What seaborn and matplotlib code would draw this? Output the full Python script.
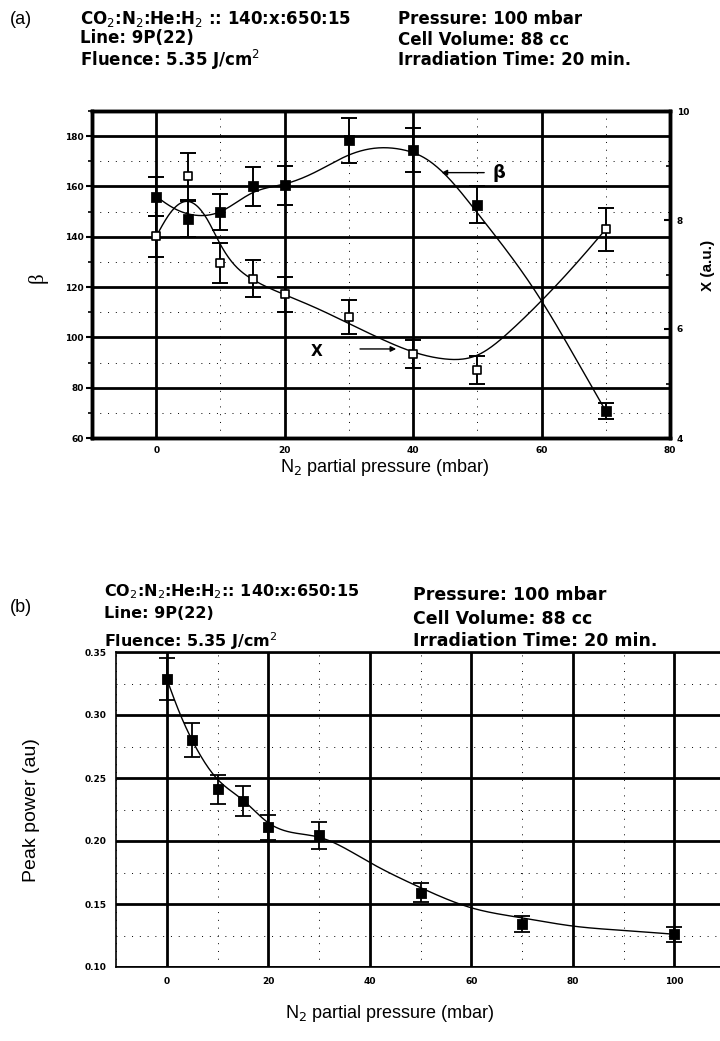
import numpy as np
import matplotlib
matplotlib.use("Agg")
import matplotlib.pyplot as plt
import seaborn as sns
from matplotlib.ticker import MultipleLocator

# ---------------- data ----------------
# panel (a)
n2_a = [0, 5, 10, 15, 20, 30, 40, 50, 70]
beta = [156, 147, 150, 160, 160.5, 178.4, 174.4, 152.8, 70.7]
beta_err = [7.7, 7.2, 7.2, 7.8, 7.8, 9.0, 8.7, 7.2, 3.2]
xval = [7.70, 8.80, 7.21, 6.92, 6.64, 6.22, 5.54, 5.25, 7.83]
xval_err = [0.38, 0.43, 0.36, 0.34, 0.32, 0.32, 0.26, 0.26, 0.39]

# fitted curves of panel (a), anchor values
beta_fit_x = [0, 3, 6, 10, 15, 20, 25, 30, 34, 38, 42, 46, 50, 55, 60, 65, 70]
beta_fit_y = [156, 151, 148.6, 150, 157.5, 161, 166, 172.5, 175.2, 174.8, 171, 162, 149.5, 133, 114.5, 93, 70.7]
x_fit_x = [0, 2, 5, 8, 10, 12, 15, 20, 25, 30, 35, 40, 45, 50, 55, 60, 65, 70]
x_fit_y = [7.70, 8.10, 8.34, 8.00, 7.55, 7.20, 6.91, 6.63, 6.38, 6.10, 5.82, 5.58, 5.45, 5.52, 5.95, 6.52, 7.15, 7.83]

# panel (b)
n2_b = [0, 5, 10, 15, 20, 30, 50, 70, 100]
peak = [0.3286, 0.280, 0.241, 0.232, 0.211, 0.2045, 0.159, 0.134, 0.126]
peak_err = [0.0165, 0.0135, 0.0115, 0.012, 0.010, 0.0105, 0.0075, 0.0065, 0.006]
peak_fit_x = [0, 2.5, 5, 10, 15, 20, 30, 40, 50, 60, 70, 80, 90, 100]
peak_fit_y = [0.3286, 0.302, 0.280, 0.249, 0.2325, 0.2145, 0.203, 0.183, 0.163, 0.147, 0.139, 0.1325, 0.129, 0.126]

x_ticks_a = [0, 20, 40, 60, 80]
beta_ticks = [60, 80, 100, 120, 140, 160, 180]
xau_ticks = [4, 6, 8, 10]
x_ticks_b = [0, 20, 40, 60, 80, 100]
peak_ticks = [0.10, 0.15, 0.20, 0.25, 0.30, 0.35]

header_left = ["CO$_2$:N$_2$:He:H$_2$ :: 140:x:650:15", "Line: 9P(22)", "Fluence: 5.35 J/cm$^2$"]
header_left_b = ["CO$_2$:N$_2$:He:H$_2$:: 140:x:650:15", "Line: 9P(22)", "Fluence: 5.35 J/cm$^2$"]
header_right = ["Pressure: 100 mbar", "Cell Volume: 88 cc", "Irradiation Time: 20 min."]


def natural_spline(x, y, xs):
    x = np.asarray(x, float); y = np.asarray(y, float)
    n = len(x); h = np.diff(x)
    A = np.zeros((n, n)); b = np.zeros(n)
    A[0, 0] = A[-1, -1] = 1
    for i in range(1, n - 1):
        A[i, i - 1] = h[i - 1]; A[i, i] = 2 * (h[i - 1] + h[i]); A[i, i + 1] = h[i]
        b[i] = 3 * ((y[i + 1] - y[i]) / h[i] - (y[i] - y[i - 1]) / h[i - 1])
    c = np.linalg.solve(A, b)
    bc = (y[1:] - y[:-1]) / h - h * (2 * c[:-1] + c[1:]) / 3
    d = (c[1:] - c[:-1]) / (3 * h)
    idx = np.clip(np.searchsorted(x, xs) - 1, 0, n - 2)
    dx = xs - x[idx]
    return y[idx] + bc[idx] * dx + c[idx] * dx ** 2 + d[idx] * dx ** 3


sns.set_theme(style="white")
plt.rcParams["font.family"] = ["Liberation Sans", "DejaVu Sans"]
plt.rcParams["mathtext.fontset"] = "custom"
plt.rcParams["mathtext.rm"] = "DejaVu Sans"
plt.rcParams["mathtext.it"] = "DejaVu Sans"
plt.rcParams["mathtext.bf"] = "DejaVu Sans:bold"
plt.rcParams["text.color"] = "black"
plt.rcParams["axes.labelcolor"] = "black"
plt.rcParams["xtick.color"] = "black"
plt.rcParams["ytick.color"] = "black"

W, H = 720, 1041
fig = plt.figure(figsize=(W / 100, H / 100), dpi=100)
fig.patch.set_facecolor("white")


def px_axes(l, r, t, b):
    return fig.add_axes([l / W, 1 - b / H, (r - l) / W, (b - t) / H])


def txt(xp, yp, s, **kw):
    fig.text(xp / W, 1 - yp / H, s, color="black", **kw)


tick_font = dict(fontsize=6.5, fontweight="bold", family="DejaVu Sans", color="black")
hdr = dict(fontsize=12, fontweight="bold", va="center", ha="left", family="DejaVu Sans")
hdr_bl = dict(fontsize=11.5, fontweight="bold", va="center", ha="left", family="DejaVu Sans")
hdr_br = dict(fontsize=12.5, fontweight="bold", va="center", ha="left", family="DejaVu Sans")

# ---------------- panel (a) ----------------
ax = px_axes(92, 670, 111, 438)
ax.set_xlim(-10, 80)
ax.set_ylim(60, 190)
ax.set_xticks(x_ticks_a)
ax.set_yticks(beta_ticks)
ax.xaxis.set_minor_locator(MultipleLocator(10))
ax.yaxis.set_minor_locator(MultipleLocator(10))
ax.grid(True, which="major", color="black", lw=2.0)
ax.grid(True, which="minor", color="black", lw=0.7, ls=(0, (1, 7)))
ax.set_axisbelow(True)
for s in ax.spines.values():
    s.set_linewidth(2.5); s.set_color("black")
ax.tick_params(axis="both", which="major", direction="out", length=4, width=1.5, pad=2, colors="black")
ax.tick_params(axis="both", which="minor", direction="out", length=3, width=1.2, colors="black")
ax.set_xticklabels([str(t) for t in x_ticks_a], **tick_font)
ax.set_yticklabels([str(t) for t in beta_ticks], **tick_font)

xs = np.linspace(0, 70, 300)
sns.lineplot(x=xs, y=natural_spline(beta_fit_x, beta_fit_y, xs), color="black", lw=1.0, ax=ax)
ax.errorbar(n2_a, beta, yerr=beta_err, fmt="none", ecolor="black", elinewidth=1.4, capsize=6, capthick=1.4)
sns.scatterplot(x=n2_a, y=beta, marker="s", s=45, color="black", edgecolor="black", ax=ax, zorder=5)

ax2 = ax.twinx()
ax2.set_ylim(4, 10)
ax2.set_yticks(xau_ticks)
ax2.yaxis.set_minor_locator(MultipleLocator(1))
ax2.set_yticklabels([str(t) for t in xau_ticks], **tick_font)
ax2.tick_params(axis="y", which="major", direction="in", length=4, width=1.5, pad=5, colors="black")
ax2.tick_params(axis="y", which="minor", direction="in", length=3, width=1.2, colors="black")
for s in ax2.spines.values():
    s.set_linewidth(2.5); s.set_color("black")
sns.lineplot(x=xs, y=natural_spline(x_fit_x, x_fit_y, xs), color="black", lw=1.0, ax=ax2)
ax2.errorbar(n2_a, xval, yerr=xval_err, fmt="none", ecolor="black", elinewidth=1.4, capsize=6, capthick=1.4)
sns.scatterplot(x=n2_a, y=xval, marker="s", s=40, color="white", edgecolor="black", linewidth=1.2, ax=ax2, zorder=5)
ax2.grid(False)

ax.set_xlabel(""); ax.set_ylabel(""); ax2.set_ylabel("")
ax.annotate("", xy=(44.0, 165.5), xytext=(51.5, 165.5),
            arrowprops=dict(arrowstyle="-|>", color="black", lw=1.0, mutation_scale=8))
ax.text(52.3, 165.5, "β", fontsize=13, fontweight="bold", va="center", ha="left", family="DejaVu Sans", color="black")
ax.annotate("", xy=(37.8, 95.4), xytext=(31.3, 95.4),
            arrowprops=dict(arrowstyle="-|>", color="black", lw=1.0, mutation_scale=8))
ax.text(25.0, 94.5, "X", fontsize=11, fontweight="bold", va="center", ha="center", family="DejaVu Sans", color="black")

txt(38, 278, "β", fontsize=15, rotation=90, va="center", ha="center", family="Liberation Serif")
txt(708, 265, "X (a.u.)", fontsize=11, fontweight="bold", rotation=90, va="center", ha="center")
txt(385, 467, "N$_2$ partial pressure (mbar)", fontsize=13, va="center", ha="center")

txt(10, 19, "(a)", fontsize=13, va="center", ha="left")
for i, s in enumerate(header_left):
    txt(80, [19, 38, 60][i], s, **hdr)
for i, s in enumerate(header_right):
    txt(398, [19, 40, 60][i], s, **hdr)

# ---------------- panel (b) ----------------
bx = px_axes(116, 725, 652, 967)
bx.set_xlim(-10, 110)
bx.set_ylim(0.10, 0.35)
bx.set_xticks(x_ticks_b)
bx.set_yticks(peak_ticks)
bx.xaxis.set_minor_locator(MultipleLocator(10))
bx.yaxis.set_minor_locator(MultipleLocator(0.025))
bx.grid(True, which="major", color="black", lw=2.0)
bx.grid(True, which="minor", color="black", lw=0.7, ls=(0, (1, 7)))
bx.set_axisbelow(True)
for s in bx.spines.values():
    s.set_linewidth(1.2); s.set_color("black")
bx.tick_params(axis="both", which="major", direction="out", length=4, width=1.2, pad=3, colors="black")
bx.tick_params(axis="both", which="minor", direction="out", length=2.5, width=1.0, colors="black")
bx.set_xticklabels([str(t) for t in x_ticks_b], **tick_font)
bx.set_yticklabels([f"{t:.2f}" for t in peak_ticks], **tick_font)

xs_b = np.linspace(0, 100, 400)
sns.lineplot(x=xs_b, y=natural_spline(peak_fit_x, peak_fit_y, xs_b), color="black", lw=1.0, ax=bx)
bx.errorbar(n2_b, peak, yerr=peak_err, fmt="none", ecolor="black", elinewidth=1.3, capsize=6, capthick=1.3)
sns.scatterplot(x=n2_b, y=peak, marker="s", s=55, color="black", edgecolor="black", ax=bx, zorder=5)
bx.set_xlabel(""); bx.set_ylabel("")

txt(32, 810, "Peak power (au)", fontsize=14, rotation=90, va="center", ha="center")
txt(390, 1013, "N$_2$ partial pressure (mbar)", fontsize=13, va="center", ha="center")
txt(10, 608, "(b)", fontsize=13, va="center", ha="left")
for i, s in enumerate(header_left_b):
    txt(104, [592, 614, 641][i], s, **hdr_bl)
for i, s in enumerate(header_right):
    txt(413, [595, 619, 641][i], s, **hdr_br)

fig.savefig("out.png", dpi=100, facecolor="white")
